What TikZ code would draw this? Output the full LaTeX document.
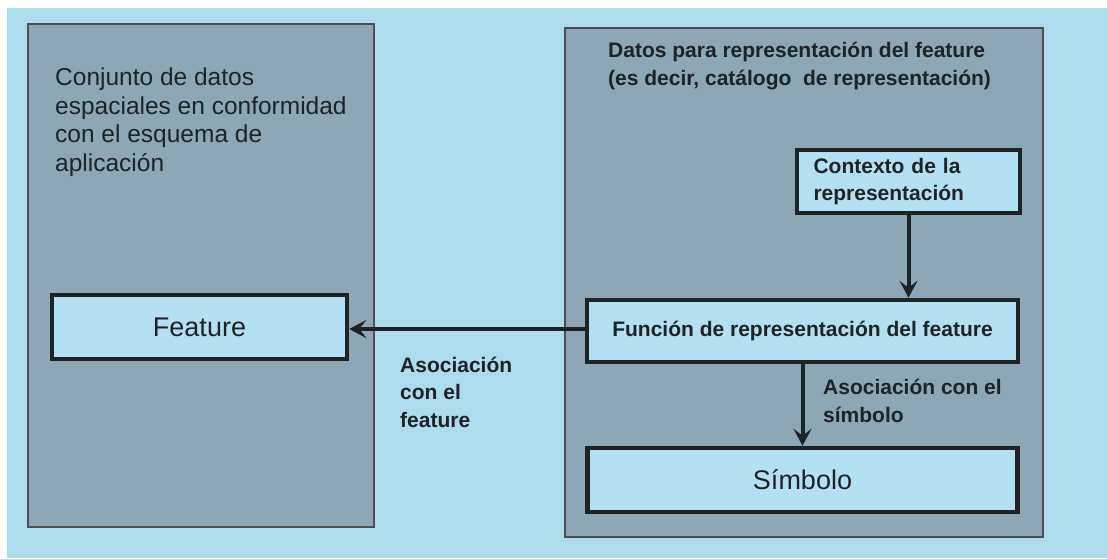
\documentclass[tikz,border=0pt]{standalone}
\usepackage{fontspec}
\setmainfont{Liberation Sans}
\usetikzlibrary{arrows.meta}
\definecolor{bgblue}{HTML}{ADDDED}
\definecolor{panelgray}{HTML}{8DA7B5}
\definecolor{boxblue}{HTML}{B3E1F1}
\definecolor{ink}{HTML}{1E2326}
\tikzset{
  panel/.style={fill=panelgray, draw=ink!80, line width=1.2pt},
  entity/.style={draw=ink, fill=boxblue, line width=4.5pt, inner sep=0pt, font=\fontsize{27}{30}\selectfont, text=ink},
  boldbox/.style={entity, font=\fontsize{21}{27.5}\selectfont\bfseries},
  plain/.style={inner sep=0pt, align=left, text=ink, font=\fontsize{24.5}{28.5}\selectfont},
  boldtxt/.style={inner sep=0pt, align=left, text=ink, font=\fontsize{21}{27.5}\selectfont\bfseries},
  link/.style={line width=4pt, draw=ink, -{Stealth[length=17pt,width=18pt,inset=7pt]}},
}
\begin{document}
\begin{tikzpicture}[x=1pt,y=-1pt]
\useasboundingbox (0,0) rectangle (1107,558);
\fill[white] (0,0) rectangle (1107,558);
\fill[bgblue] (7,8) rectangle (1107,558);
% panels
\path[panel] (28,24) rectangle (374,527);
\path[panel] (565,28) rectangle (1043,537);
% texts
\node[plain, anchor=west] (lt) at (55,122) {Conjunto de datos\\espaciales en conformidad\\con el esquema de\\aplicación};
\node[boldtxt, anchor=west] (rt) at (608,66) {Datos para representación del feature\\(es decir, catálogo\ \ de representación)};
% boxes
\node[entity, minimum width=295pt, minimum height=64pt] (feat) at (199.5,327) {Feature};
\node[boldbox, minimum width=223pt, minimum height=63pt, align=left, text width=190pt] (ctx) at (908.5,181.5) {Contexto de la\\representación};
\node[boldbox, minimum width=431pt, minimum height=62pt] (func) at (802.5,331) {Función de representación del feature};
\node[entity, minimum width=430pt, minimum height=64pt] (sym) at (802.5,480) {Símbolo};
% connectors
\draw[link] (func.west |- 0,329) -- (feat.east |- 0,329);
\draw[link] (ctx.south) -- (ctx.south |- func.north);
\draw[link] (func.south) -- (sym.north);
% labels
\node[boldtxt, anchor=west] (l1) at (400,392) {Asociación\\con el\\feature};
\node[boldtxt, anchor=west] (l2) at (823,401) {Asociación con el\\símbolo};
\end{tikzpicture}
\end{document}
